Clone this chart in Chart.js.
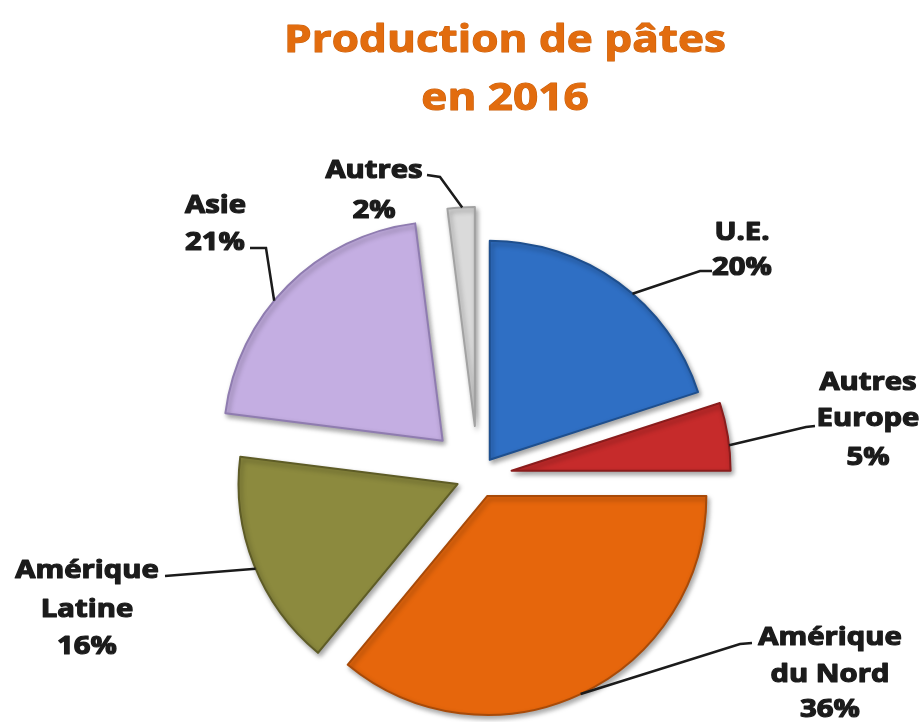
<!DOCTYPE html>
<html lang="fr">
<head>
<meta charset="utf-8">
<title>Production de pâtes en 2016</title>
<script src="https://cdn.jsdelivr.net/npm/chart.js@4.4.0/dist/chart.umd.min.js"></script>
<style>
    html, body { margin: 0; padding: 0; background: #fff; }
    #wrap { width: 920px; height: 722px; }
</style>
</head>
<body>
<div id="wrap"><canvas id="pieChart" width="920" height="722"></canvas></div>
<script>
// Chart data
const regions = [['U.E.'], ['Autres', 'Europe'], ['Amérique', 'du Nord'], ['Amérique', 'Latine'], ['Asie'], ['Autres']];
const shares = [20, 5, 36, 16, 21, 2];
const titleLines = ['Production de pâtes', 'en 2016'];

// Styling
const sliceColors = ['#2F6FC4', '#C62B2B', '#E6660C', '#8C8A3E', '#C4AEE2', '#DADADA'];
const sliceBorders = ['#1E4F8E', '#8A1C1C', '#A84A08', '#5E5C26', '#8F7CB0', '#A2A2A2'];
const explode = [20, 34, 22, 22, 50, 50]; // px each slice is pulled out

// Label placement: text anchor, line baselines, leader stub, position along the slice edge (0..1)
const labelLayout = [
    { x: 742, align: 'center', lines: [240, 275], stub: [[712, 271], [700, 271]], t: 0.565 },
    { x: 868, align: 'center', lines: [390, 426, 465], stub: [[815, 426], [806, 427]], t: 0.63 },
    { x: 830, align: 'center', lines: [645, 682, 717], stub: [[752, 643], [740, 644]], t: 0.5 },
    { x: 87, align: 'center', lines: [578, 617, 654], stub: [[165, 576]], t: 0.48 },
    { x: 185, align: 'left', lines: [213, 250], stub: [[250, 248], [266, 248]], t: 0.43 },
    { x: 374, align: 'center', lines: [178, 218], stub: [[427, 175], [440, 177]], t: 0.54 }
];

function drawStretched(ctx, text, x, y, scaleX, align, weight) {
    ctx.save();
    ctx.translate(x, y);
    ctx.scale(scaleX, 1);
    ctx.textAlign = align;
    if (weight) {
        ctx.lineWidth = weight;
        ctx.lineJoin = 'round';
        ctx.strokeText(text, 0, 0);
    }
    ctx.fillText(text, 0, 0);
    ctx.restore();
}

// Pull slices out from the centre along their middle angle
const explodePlugin = {
    id: 'explode',
    beforeDatasetsDraw(chart) {
        const area = chart.chartArea;
        const cx = (area.left + area.right) / 2;
        const cy = (area.top + area.bottom) / 2;
        chart.getDatasetMeta(0).data.forEach((arc, i) => {
            const mid = (arc.startAngle + arc.endAngle) / 2;
            arc.x = cx + Math.cos(mid) * explode[i];
            arc.y = cy + Math.sin(mid) * explode[i];
        });
        const ctx = chart.ctx;
        ctx.save();
        ctx.shadowColor = 'rgba(0, 0, 0, 0.35)';
        ctx.shadowBlur = 5;
        ctx.shadowOffsetX = 2;
        ctx.shadowOffsetY = 3;
    },
    afterDatasetsDraw(chart) {
        chart.ctx.restore();
    }
};

// Title and slice labels with leader lines
const labelPlugin = {
    id: 'sliceLabels',
    afterDraw(chart) {
        const ctx = chart.ctx;
        ctx.save();

        ctx.fillStyle = '#E26C0E';
        ctx.strokeStyle = '#C95E0A';
        ctx.font = 'bold 38px "Open Sans"';
        ctx.textBaseline = 'alphabetic';
        drawStretched(ctx, titleLines[0], 505, 52, 1.16, 'center', 1);
        drawStretched(ctx, titleLines[1], 505, 110, 1.16, 'center', 1);

        const arcs = chart.getDatasetMeta(0).data;
        ctx.strokeStyle = '#1B1B1B';
        ctx.fillStyle = '#1B1B1B';
        ctx.font = 'bold 25px "Open Sans"';

        arcs.forEach((arc, i) => {
            const lay = labelLayout[i];
            const a = arc.startAngle + lay.t * (arc.endAngle - arc.startAngle);
            const ex = arc.x + Math.cos(a) * arc.outerRadius;
            const ey = arc.y + Math.sin(a) * arc.outerRadius;

            ctx.lineWidth = 2.5;
            ctx.beginPath();
            ctx.moveTo(lay.stub[0][0], lay.stub[0][1]);
            lay.stub.slice(1).forEach(p => ctx.lineTo(p[0], p[1]));
            ctx.lineTo(ex, ey);
            ctx.stroke();

            const textLines = regions[i].concat([shares[i] + '%']);
            textLines.forEach((line, k) => {
                drawStretched(ctx, line, lay.x, lay.lines[k], 1.17, lay.align, 1.2);
            });
        });
        ctx.restore();
    }
};

const ctx = document.getElementById('pieChart').getContext('2d');
const pieChart = new Chart(ctx, {
    type: 'pie',
    data: {
        labels: regions,
        datasets: [{
            data: shares,
            backgroundColor: sliceColors,
            borderColor: sliceBorders,
            borderWidth: 2,
            borderJoinStyle: 'round'
        }]
    },
    options: {
        responsive: false,
        animation: false,
        events: [],
        radius: 219,
        layout: {
            padding: { left: 36, right: 0, top: 246, bottom: 16 }
        },
        plugins: {
            legend: { display: false },
            tooltip: { enabled: false },
            title: { display: false }
        }
    },
    plugins: [explodePlugin, labelPlugin]
});
</script>
</body>
</html>
